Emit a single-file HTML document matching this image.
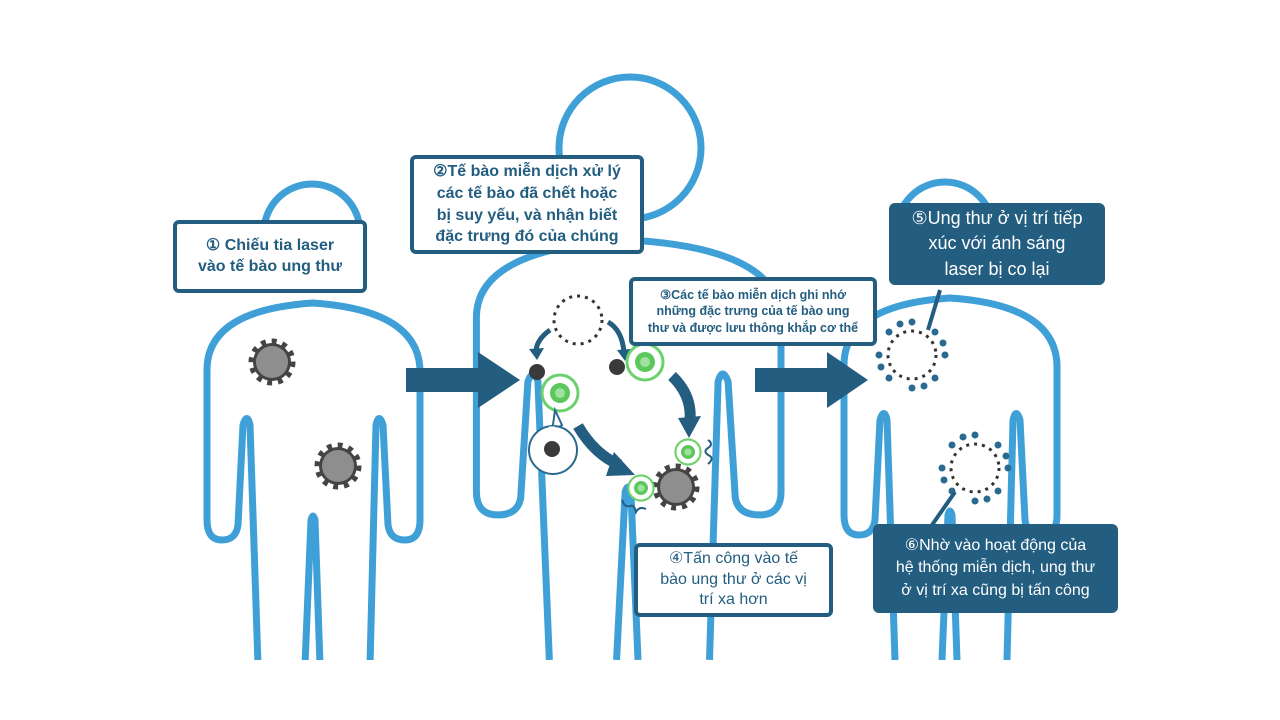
<!DOCTYPE html>
<html><head><meta charset="utf-8"><style>
body{margin:0;width:1280px;height:720px;background:#fff;overflow:hidden;position:relative;font-family:"Liberation Sans",sans-serif}
.b{position:absolute;box-sizing:border-box;border:4px solid #235d80;border-radius:6px;background:#fff;color:#235d80;font-weight:bold;text-align:center;display:flex;align-items:center;justify-content:center;line-height:1.3}
.f{background:#235d80;color:#fff;font-weight:normal}
</style></head><body>
<svg width="1280" height="720" style="position:absolute;left:0;top:0">
<defs>
<g id="fig">
<path d="M -55 362 L -63 122 Q -66 109 -70 122 L -75 222 Q -77 237 -91 237 Q -106 237 -106 217 L -106 67 Q -106 7 0 0 Q 105 7 107 67 L 107 217 Q 107 237 92 237 Q 77 237 75 222 L 70 122 Q 66 109 63 122 L 57 362" fill="none" stroke="#3fa0d8" stroke-width="7" vector-effect="non-scaling-stroke" stroke-linejoin="round"/>
<path d="M -8 362 L -2 217 Q 0 209 2 217 L 7 362" fill="none" stroke="#3fa0d8" stroke-width="7" vector-effect="non-scaling-stroke"/>
</g>
<g id="gear"><circle r="19" fill="none" stroke="#444" stroke-width="9" stroke-dasharray="4.5 5.4"/><circle r="19" fill="#444"/><circle r="16" fill="#8e8e8e"/></g>
<g id="imm"><circle r="18" fill="#fff" stroke="#6cd06c" stroke-width="3"/><circle r="10" fill="#5cc85c"/><circle r="5" fill="#9ee29e"/></g>
<g id="dead"><circle r="24" fill="none" stroke="#333" stroke-width="3" stroke-dasharray="3 5"/></g>
<g id="dots"><circle r="24" fill="none" stroke="#333" stroke-width="3" stroke-dasharray="3 5"/>
<g fill="#2a6a90"><circle cx="33" cy="0" r="3.5"/><circle cx="-33" cy="0" r="3.5"/><circle cx="0" cy="33" r="3.5"/><circle cx="0" cy="-33" r="3.5"/><circle cx="23" cy="23" r="3.5"/><circle cx="-23" cy="23" r="3.5"/><circle cx="23" cy="-23" r="3.5"/><circle cx="-23" cy="-23" r="3.5"/><circle cx="12" cy="31" r="3.5"/><circle cx="-12" cy="-31" r="3.5"/><circle cx="31" cy="-12" r="3.5"/><circle cx="-31" cy="12" r="3.5"/></g></g>
</defs>
<g fill="none" stroke="#3fa0d8" stroke-width="7">
<circle cx="312" cy="232" r="48"/>
<circle cx="630" cy="148" r="71"/>
<circle cx="945" cy="230" r="48"/>
</g>
<use href="#fig" transform="translate(313,303)"/>
<use href="#fig" transform="translate(628,240) scale(1.43,1.16)"/>
<use href="#fig" transform="translate(950,298)"/>
<rect x="0" y="660" width="1280" height="60" fill="#fff"/>
<use href="#gear" x="272" y="362"/>
<use href="#gear" x="338" y="466"/>
<use href="#gear" x="676" y="487"/>
<path d="M406 368 H478 V352 L520 380 L478 408 V392 H406Z" fill="#235d80"/>
<path d="M755 368 H827 V352 L868 380 L827 408 V392 H755Z" fill="#235d80"/>
<use href="#dead" x="578" y="320"/>
<path d="M550 330 Q536 340 536 352" fill="none" stroke="#235d80" stroke-width="5"/><path d="M529 349 L537 360 L544 348Z" fill="#235d80"/>
<path d="M608 322 Q622 330 624 352" fill="none" stroke="#235d80" stroke-width="5"/><path d="M617 350 L625 361 L631 349Z" fill="#235d80"/>
<circle cx="537" cy="372" r="8" fill="#3a3a3a"/>
<circle cx="617" cy="367" r="8" fill="#3a3a3a"/>
<use href="#imm" x="645" y="362"/>
<use href="#imm" x="560" y="393"/>
<path d="M555 410 L552 432 L562 425Z" fill="#fff" stroke="#2a6a90" stroke-width="2"/>
<circle cx="553" cy="450" r="24" fill="#fff" stroke="#2a6a90" stroke-width="2"/>
<path d="M549 428 L555 428" stroke="#fff" stroke-width="3"/>
<circle cx="552" cy="449" r="8" fill="#3a3a3a"/>
<path d="M672 376 Q692 395 690 420" fill="none" stroke="#235d80" stroke-width="11"/><path d="M678 418 L689 438 L701 416Z" fill="#235d80"/>
<path d="M578 426 Q595 455 620 465" fill="none" stroke="#235d80" stroke-width="11"/><path d="M614 452 L635 475 L606 476Z" fill="#235d80"/>
<use href="#imm" x="688" y="452" transform="translate(688 452) scale(0.7) translate(-688 -452)"/>
<use href="#imm" x="641" y="488" transform="translate(641 488) scale(0.7) translate(-641 -488)"/>
<path d="M708 440 q6 4 0 8 q-6 4 2 8 q4 3 -2 8" fill="none" stroke="#235d80" stroke-width="2"/>
<path d="M622 500 q3 8 8 6 q4 -2 6 6 q3 -6 10 -3" fill="none" stroke="#235d80" stroke-width="2"/>
<use href="#dots" x="912" y="355"/>
<use href="#dots" x="975" y="468"/>
<path d="M928 330 L940 290" stroke="#235d80" stroke-width="4"/>
<path d="M955 492 L932 525" stroke="#235d80" stroke-width="4"/>
</svg>
<div class="b" style="left:173px;top:220px;width:194px;height:73px;font-size:16px">① Chiếu tia laser<br>vào tế bào ung thư</div>
<div class="b" style="left:410px;top:155px;width:234px;height:99px;font-size:16px;line-height:1.35">②Tế bào miễn dịch xử lý<br>các tế bào đã chết hoặc<br>bị suy yếu, và nhận biết<br>đặc trưng đó của chúng</div>
<div class="b" style="left:629px;top:277px;width:248px;height:69px;font-size:12.5px">③Các tế bào miễn dịch ghi nhớ<br>những đặc trưng của tế bào ung<br>thư và được lưu thông khắp cơ thể</div>
<div class="b" style="left:634px;top:543px;width:199px;height:74px;font-size:16px;font-weight:normal;line-height:1.3">④Tấn công vào tế<br>bào ung thư ở các vị<br>trí xa hơn</div>
<div class="b f" style="left:889px;top:203px;width:216px;height:82px;font-size:18px;line-height:1.4">⑤Ung thư ở vị trí tiếp<br>xúc với ánh sáng<br>laser bị co lại</div>
<div class="b f" style="left:873px;top:524px;width:245px;height:89px;font-size:16px;line-height:1.4">⑥Nhờ vào hoạt động của<br>hệ thống miễn dịch, ung thư<br>ở vị trí xa cũng bị tấn công</div>
</body></html>
